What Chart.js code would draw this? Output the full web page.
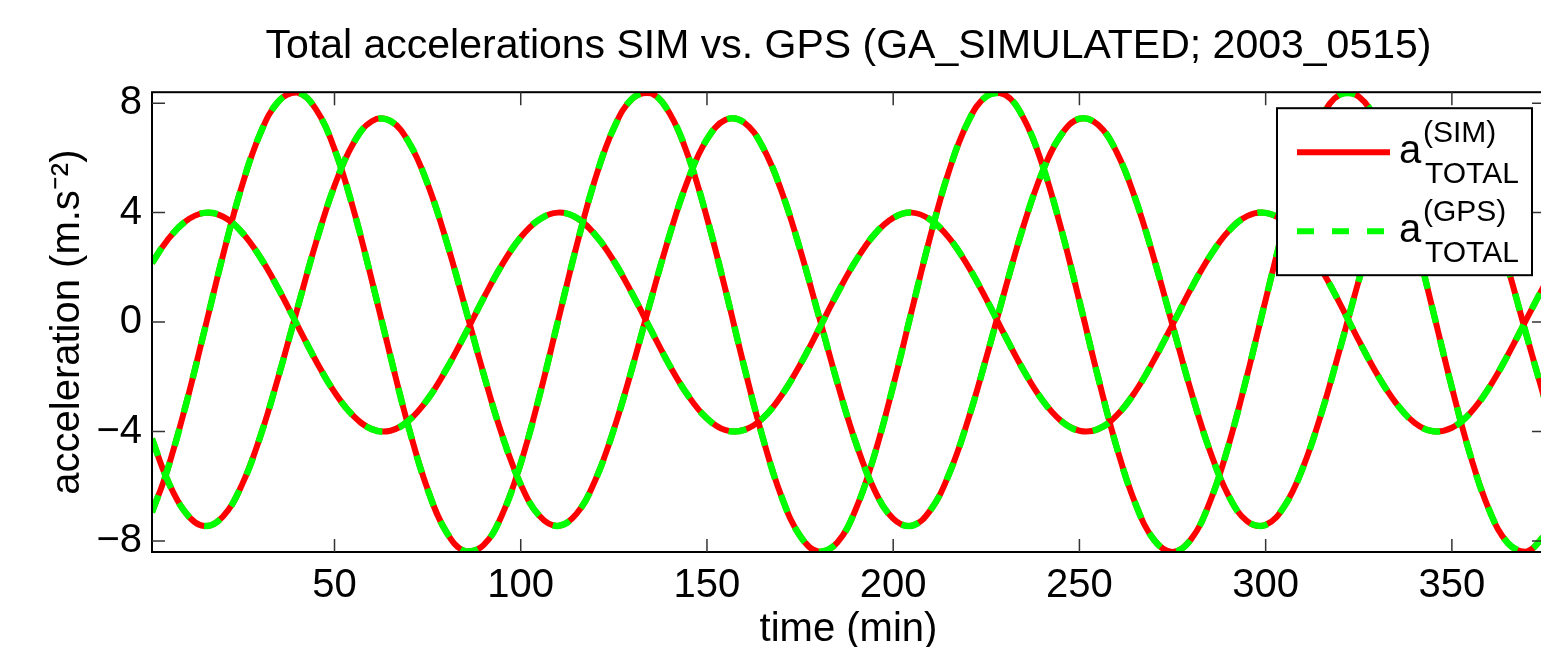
<!DOCTYPE html>
<html>
<head>
<meta charset="utf-8">
<script src="https://cdn.jsdelivr.net/npm/chart.js@4.4.0/dist/chart.umd.min.js"></script>
<style>
  html, body { margin: 0; padding: 0; background: #fff; overflow: hidden; }
  #wrap { position: relative; width: 1560px; height: 660px; }
</style>
</head>
<body>
<div id="wrap"><canvas id="accChart"></canvas></div>
<script>
// time axis (min) and the three total-acceleration components
const timeMin = [1, 5, 10, 15, 20, 25, 30, 35, 40, 45, 50, 55, 60, 65, 70, 75, 80, 85, 90, 95,
  100, 105, 110, 115, 120, 125, 130, 135, 140, 145, 150, 155, 160, 165, 170, 175, 180, 185, 190, 195,
  200, 205, 210, 215, 220, 225, 230, 235, 240, 245, 250, 255, 260, 265, 270, 275, 280, 285, 290, 295,
  300, 305, 310, 315, 320, 325, 330, 335, 340, 345, 350, 355, 360, 365, 370, 375]

const accA = [-6.95, -5.46, -3.07, -0.35, 2.41, 4.91, 6.87, 8.07, 8.39, 7.78, 6.32, 4.16, 1.54, -1.24, -3.89, -6.11, -7.66, -8.37, -8.15, -7.04,
  -5.16, -2.71, 0.04, 2.79, 5.23, 7.09, 8.17, 8.36, 7.62, 6.05, 3.81, 1.16, -1.63, -4.23, -6.37, -7.81, -8.39, -8.05, -6.82, -4.84,
  -2.33, 0.43, 3.15, 5.53, 7.29, 8.25, 8.31, 7.45, 5.77, 3.46, 0.77, -2.01, -4.57, -6.62, -7.95, -8.40, -7.93, -6.58, -4.52, -1.96,
  0.82, 3.51, 5.81, 7.48, 8.32, 8.24, 7.26, 5.48, 3.10, 0.38, -2.39, -4.89, -6.86, -8.07, -8.39, -7.79]

const accB = [-4.26, -5.72, -6.96, -7.45, -7.11, -5.99, -4.21, -1.97, 0.48, 2.89, 4.98, 6.52, 7.34, 7.35, 6.56, 5.05, 2.98, 0.58, -1.88, -4.13,
  -5.93, -7.08, -7.45, -7.00, -5.78, -3.92, -1.64, 0.83, 3.20, 5.23, 6.68, 7.39, 7.29, 6.39, 4.79, 2.66, 0.24, -2.21, -4.42, -6.14,
  -7.18, -7.44, -6.87, -5.55, -3.62, -1.30, 1.17, 3.52, 5.47, 6.82, 7.43, 7.21, 6.21, 4.51, 2.33, -0.11, -2.54, -4.69, -6.33, -7.27,
  -7.41, -6.73, -5.32, -3.32, -0.95, 1.52, 3.82, 5.70, 6.96, 7.45, 7.12, 6.01, 4.23, 2.00, -0.46, -2.87]

const accC = [2.16, 2.97, 3.68, 3.99, 3.86, 3.30, 2.38, 1.20, -0.11, -1.41, -2.56, -3.42, -3.91, -3.97, -3.59, -2.82, -1.73, -0.46, 0.87, 2.10,
  3.10, 3.75, 4.00, 3.81, 3.19, 2.23, 1.02, -0.30, -1.59, -2.70, -3.52, -3.95, -3.94, -3.51, -2.68, -1.56, -0.27, 1.05, 2.25, 3.21,
  3.81, 4.00, 3.74, 3.08, 2.07, 0.84, -0.49, -1.76, -2.84, -3.60, -3.97, -3.91, -3.41, -2.54, -1.39, -0.09, 1.23, 2.40, 3.32, 3.87,
  3.99, 3.67, 2.95, 1.91, 0.66, -0.67, -1.92, -2.96, -3.68, -3.99, -3.86, -3.31, -2.39, -1.21, 0.10, 1.40]

const xTicks = [50, 100, 150, 200, 250, 300, 350]
const yTicks = [-8, -4, 0, 4, 8]

const sources = ['SIM', 'GPS']
const sourceColors = ['#ff0000', '#00ff00']
const sourceDash = [[], [18, 17]]
const sourceWidth = [6, 6.5]

const FONT = "'Liberation Sans', Arial, Helvetica, sans-serif"
Chart.defaults.font.family = FONT
Chart.defaults.color = '#000'

function toPoints (values) {
  return timeMin.map((t, i) => ({ x: t, y: values[i] }))
}

// SIM (red, solid) underneath, GPS (green, dashed) on top (lower order = drawn last)
const datasets = []
sources.forEach((src, s) => {
  for (const values of [accA, accB, accC]) {
    datasets.push({
      label: src,
      data: toPoints(values),
      order: sources.length - s,
      borderColor: sourceColors[s],
      borderWidth: sourceWidth[s],
      borderDash: sourceDash[s],
      borderCapStyle: 'butt',
      pointRadius: 0,
      tension: 0.4,
      fill: false
    })
  }
})

// MATLAB style box with inward ticks on all four sides
const axesBox = {
  id: 'axesBox',
  afterDatasetsDraw (chart) {
    const { ctx, chartArea: a, scales: { x, y } } = chart
    ctx.save()
    ctx.strokeStyle = '#000'
    ctx.lineWidth = 2
    ctx.strokeRect(a.left, a.top, a.right - a.left, a.bottom - a.top)
    ctx.strokeStyle = '#333'
    ctx.lineWidth = 1.5
    const len = 13
    ctx.beginPath()
    for (const t of x.ticks) {
      const px = x.getPixelForValue(t.value)
      ctx.moveTo(px, a.bottom); ctx.lineTo(px, a.bottom - len)
      ctx.moveTo(px, a.top); ctx.lineTo(px, a.top + len)
    }
    for (const t of y.ticks) {
      const py = y.getPixelForValue(t.value)
      ctx.moveTo(a.left, py); ctx.lineTo(a.left + len, py)
      ctx.moveTo(a.right, py); ctx.lineTo(a.right - len, py)
    }
    ctx.stroke()
    ctx.restore()
  }
}

// legend with a^(SIM)_TOTAL style labels
const legendBox = {
  id: 'legendBox',
  afterDraw (chart) {
    const { ctx, chartArea: a } = chart
    const left = a.right - 268
    const top = a.top + 16
    const w = 255
    const h = 167
    ctx.save()
    ctx.fillStyle = '#fff'
    ctx.fillRect(left, top, w, h)
    ctx.strokeStyle = '#000'
    ctx.lineWidth = 2
    ctx.strokeRect(left, top, w, h)
    sources.forEach((src, i) => {
      const base = top + 55 + i * 79
      ctx.strokeStyle = sourceColors[i]
      ctx.lineWidth = 6
      ctx.lineCap = 'butt'
      ctx.setLineDash(sourceDash[i].length ? [17, 18] : [])
      ctx.beginPath()
      ctx.moveTo(left + 20, base - 11)
      ctx.lineTo(left + 113, base - 11)
      ctx.stroke()
      ctx.setLineDash([])
      ctx.fillStyle = '#000'
      ctx.textBaseline = 'alphabetic'
      ctx.textAlign = 'left'
      ctx.font = '40px ' + FONT
      ctx.fillText('a', left + 122, base)
      ctx.font = '30px ' + FONT
      ctx.fillText('(' + src + ')', left + 146, base - 21)
      ctx.fillText('TOTAL', left + 148, base + 20)
    })
    ctx.restore()
  }
}

new Chart(document.getElementById('accChart'), {
  type: 'line',
  data: { datasets },
  plugins: [axesBox, legendBox],
  options: {
    responsive: true,
    maintainAspectRatio: false,
    animation: false,
    layout: { padding: { left: 0, right: 15, top: 0, bottom: 0 } },
    plugins: {
      legend: { display: false },
      tooltip: { enabled: false },
      title: {
        display: true,
        fullSize: false,
        text: 'Total accelerations SIM vs. GPS (GA_SIMULATED; 2003_0515)',
        color: '#000',
        font: { size: 41, weight: 'normal' },
        padding: { top: 22, bottom: 21 }
      }
    },
    scales: {
      x: {
        type: 'linear',
        min: 1,
        max: 375,
        afterBuildTicks: (scale) => { scale.ticks = xTicks.map(v => ({ value: v })) },
        afterFit: (scale) => { scale.height = 108 },
        grid: { display: false, drawTicks: false },
        border: { display: false },
        ticks: { font: { size: 40 }, padding: 10, maxRotation: 0, color: '#000' },
        title: { display: true, text: 'time (min)', font: { size: 40 }, padding: { top: 0, bottom: 6 }, color: '#000' }
      },
      y: {
        min: -8.4,
        max: 8.4,
        afterBuildTicks: (scale) => { scale.ticks = yTicks.map(v => ({ value: v })) },
        afterFit: (scale) => { scale.width = 152 },
        grid: { display: false, drawTicks: false },
        border: { display: false },
        ticks: {
          font: { size: 40 },
          padding: 10,
          color: '#000',
          callback: (v) => String(v).replace('-', '\u2212')
        },
        title: { display: true, text: 'acceleration (m.s\u207B\u00B2)', font: { size: 40 }, padding: { top: 44, bottom: 0 }, color: '#000' }
      }
    }
  }
})
</script>
</body>
</html>
